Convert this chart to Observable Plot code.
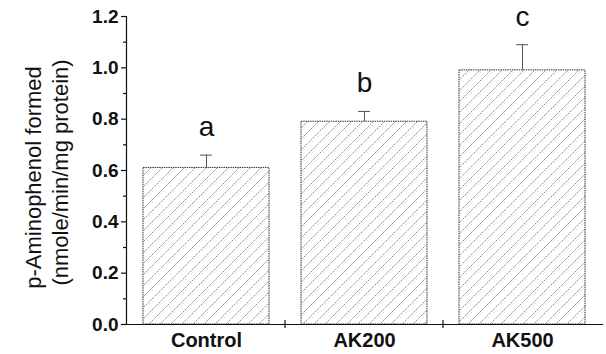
<!DOCTYPE html>
<html>
<head>
<meta charset="utf-8">
<script src="https://cdn.jsdelivr.net/npm/d3@7"></script>
<script src="https://cdn.jsdelivr.net/npm/@observablehq/plot@0.6"></script>
<style>
  html, body { margin: 0; padding: 0; background: white; }
</style>
</head>
<body>
<div id="chart"></div>
<script>
const categories = ["Control", "AK200", "AK500"];
const values = [0.61, 0.79, 0.99];
const errors = [0.05, 0.04, 0.10];
const letters = ["a", "b", "c"];
const yTicks = [0, 0.2, 0.4, 0.6, 0.8, 1.0, 1.2];
const yMinorTicks = [0.1, 0.3, 0.5, 0.7, 0.9, 1.1];
const yLabelLines = ["p-Aminophenol formed", "(nmole/min/mg protein)"];

const data = categories.map((c, i) => ({
  cat: c, v: values[i], top: values[i] + errors[i], letter: letters[i]
}));

// boundary ticks between bands, computed from the band scale
function bandBoundaryTicks(index, scales, values, dims) {
  const x = scales.x;
  const g = d3.create("svg:g").attr("stroke", "#111").attr("stroke-width", 1.2);
  const y0 = dims.height - dims.marginBottom;
  const step = x.step ? x.step() : (dims.width - dims.marginLeft - dims.marginRight) / categories.length;
  const bw = x.bandwidth ? x.bandwidth() : step * 0.8;
  for (let i = 1; i < categories.length; i++) {
    const px = x(categories[i]) - (step - bw) / 2;
    g.append("line").attr("x1", px).attr("x2", px).attr("y1", y0 - 4).attr("y2", y0 + 4);
  }
  return g.node();
}

const chart = Plot.plot({
  width: 606,
  height: 354,
  marginLeft: 126,
  marginRight: 4,
  marginTop: 16,
  marginBottom: 30,
  style: { fontFamily: "'Liberation Sans', Arial, sans-serif", background: "white", color: "#111" },
  x: { domain: categories, paddingInner: 0.2, paddingOuter: 0.1, label: null },
  y: { domain: [0, 1.2], label: null },
  marks: [
    Plot.barY(data, { x: "cat", y: "v", fill: "url(#hatch)", stroke: "#333", strokeWidth: 1, strokeDasharray: "1.5,0.8" }),
    Plot.ruleX(data, { x: "cat", y1: "v", y2: "top", stroke: "#555", strokeWidth: 1 }),
    Plot.tickY(data, { x: "cat", y: "top", stroke: "#555", strokeWidth: 1, insetLeft: 57, insetRight: 57 }),
    Plot.text(data, { x: "cat", y: "top", text: "letter", lineAnchor: "bottom", dy: -19, fontSize: 28, fill: "#111" }),
    Plot.axisY({ ticks: yTicks, tickFormat: d => d.toFixed(1), tickSize: 5, tickPadding: 3, fontSize: 19, fontWeight: "bold", letterSpacing: 1.2, stroke: "#111", strokeWidth: 1.2, label: null }),
    Plot.axisY({ ticks: yMinorTicks, tickSize: 3, tickFormat: () => "", stroke: "#111", strokeWidth: 1.2, label: null }),
    Plot.axisX({ tickSize: 0, tickPadding: 8, fontSize: 20, fontWeight: "bold", letterSpacing: 1, label: null }),
    Plot.frame({ anchor: "left", stroke: "#111", strokeWidth: 1.2 }),
    Plot.frame({ anchor: "bottom", stroke: "#111", strokeWidth: 1.2 }),
    bandBoundaryTicks,
    Plot.text([yLabelLines[0]], { frameAnchor: "left", textAnchor: "middle", text: d => d, rotate: -90, dx: -93, dy: 7, fontSize: 22, fill: "#111" }),
    Plot.text([yLabelLines[1]], { frameAnchor: "left", textAnchor: "middle", text: d => d, rotate: -90, dx: -66, dy: 2, fontSize: 22, fill: "#111" })
  ]
});

// hatch pattern definition for bar fill
const svg = d3.select(chart);
const defs = svg.insert("defs", ":first-child");
const pat = defs.append("pattern")
  .attr("id", "hatch")
  .attr("patternUnits", "userSpaceOnUse")
  .attr("width", 11).attr("height", 11);
pat.append("rect").attr("width", 11).attr("height", 11).attr("fill", "white");
pat.append("path")
  .attr("d", "M-1,12 L12,-1 M-6,6 L6,-6 M5,17 L17,5")
  .attr("stroke", "#777").attr("stroke-width", 0.8).attr("stroke-dasharray", "2,0.7");
pat.append("path")
  .attr("d", "M2,12 L12,2")
  .attr("stroke", "#bbb").attr("stroke-width", 0.6).attr("stroke-dasharray", "1,1.5");

document.getElementById("chart").appendChild(chart);
</script>
</body>
</html>
